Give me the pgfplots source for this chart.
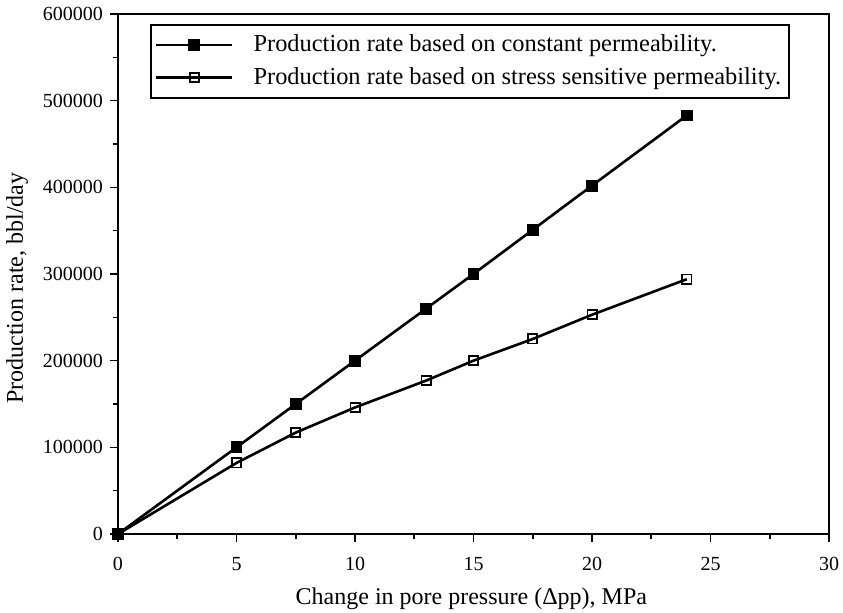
\documentclass[border=0pt]{standalone}
\usepackage{pgfplots}
\pgfplotsset{compat=1.18}
\usepackage{fontspec}
\setmainfont{Liberation Serif}
\usetikzlibrary{calc}
\begin{document}
\begin{tikzpicture}
\begin{axis}[
 scale only axis, width=355.5pt, height=260pt,
 xmin=0,xmax=30,ymin=0,ymax=600000,
 xtick={0,5,...,30}, ytick={0,100000,200000,300000,400000,500000,600000},
 minor x tick num=1, minor y tick num=1,
 tick align=outside, tick pos=left,
 major tick length=4pt, minor tick length=2.5pt,
 every tick/.style={black, line width=0.8pt},
 axis line style={line width=1pt},
 scaled y ticks=false,
 yticklabel style={/pgf/number format/fixed,/pgf/number format/1000 sep={}, xshift=0pt},
 xticklabel style={yshift=-4pt},
 /pgf/number format/assume math mode=true,
 tick label style={font=\fontsize{10}{12}\selectfont},
 label style={font=\fontsize{12}{14}\selectfont},
 xlabel={Change in pore pressure (Δpp), MPa},
 ylabel={Production rate, bbl/day},
 xlabel style={at={(axis description cs:0.497,-0.125)}, anchor=center},
 ylabel style={at={(axis description cs:-0.142,0.473)}, anchor=center},
 clip=false,
 legend style={at={(0.045,0.981)},anchor=north west, draw=black, line width=1pt, font=\fontsize{12.2}{14}\selectfont, cells={anchor=west}, inner xsep=2pt, inner ysep=3pt, row sep=2.5pt,
   /tikz/every odd column/.append style={column sep=8pt}},
 legend image code/.code={\draw[mark repeat=2,mark phase=2] plot coordinates {(0pt,0pt)(19pt,0pt)(38pt,0pt)};},
]
\addplot[black, line width=1.3pt, mark=square*, mark size=2.3pt, mark options={solid}] coordinates {(0,0)(5,100000)(7.5,150000)(10,200000)(13,260000)(15,300000)(17.5,351000)(20,402000)(24,483000)};
\addlegendentry{Production rate based on constant permeability.}
\addplot[black, line width=1.3pt, mark=square, mark size=2.3pt, mark options={fill=white, line width=0.9pt}] coordinates {(0,0)(5,82000)(7.5,117000)(10,146000)(13,177000)(15,200000)(17.5,225000)(20,253000)(24,294000)};
\addlegendentry{Production rate based on stress sensitive permeability.}
\end{axis}
\pgfresetboundingbox
\path[use as bounding box] ($(current axis.south west)+(-59pt,-39.5pt)$) rectangle ($(current axis.north east)+(7pt,7pt)$);
\end{tikzpicture}
\end{document}
